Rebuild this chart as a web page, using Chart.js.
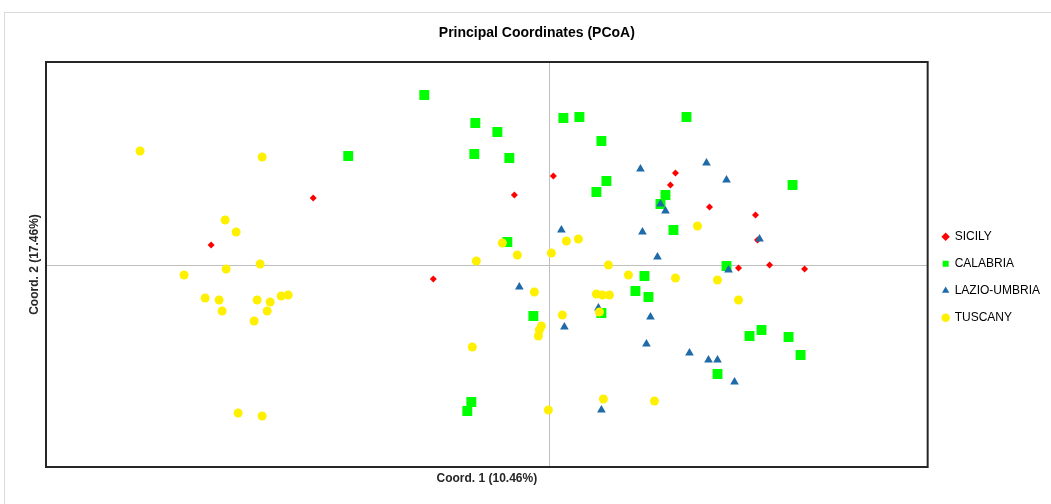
<!DOCTYPE html>
<html>
<head>
<meta charset="utf-8">
<script src="https://cdn.jsdelivr.net/npm/chart.js@4/dist/chart.umd.min.js"></script>
<style>
	html, body { margin: 0; padding: 0; overflow: hidden; background: #fff; }
	#wrap { position: relative; width: 1051px; height: 504px; }
	#frame { position: absolute; left: 4px; top: 12px; width: 1100px; height: 600px; border: 1px solid #d9d9d9; pointer-events: none; }
	canvas { position: absolute; left: 0; top: 0; }
</style>
</head>
<body>
<div id="wrap">
	<div id="frame"></div>
	<canvas id="chart" width="1051" height="504"></canvas>
</div>
<script>
const seriesNames = ["SICILY", "CALABRIA", "LAZIO-UMBRIA", "TUSCANY"];

const sicily = [
	[-2.36, 0.67], [-3.38, 0.20], [-1.16, -0.14], [-0.35, 0.70], [0.04, 0.89],
	[1.26, 0.92], [1.21, 0.80], [1.60, 0.58], [2.06, 0.50], [2.08, 0.25],
	[1.89, -0.03], [2.20, 0.00], [2.55, -0.04],
];

const calabria = [
	[-2.01, 1.09], [-1.25, 1.70], [-0.74, 1.42], [-0.52, 1.33], [-0.75, 1.11],
	[-0.40, 1.07], [0.14, 1.47], [0.30, 1.48], [0.52, 1.24], [0.57, 0.84],
	[0.47, 0.73], [1.37, 1.48], [2.43, 0.80], [1.16, 0.70], [1.11, 0.61],
	[1.24, 0.35], [-0.42, 0.23], [1.77, -0.01], [0.95, -0.11], [0.86, -0.26],
	[0.99, -0.32], [0.52, -0.48], [-0.16, -0.51], [2.00, -0.71], [2.12, -0.65],
	[2.39, -0.72], [2.51, -0.90], [1.68, -1.09], [-0.78, -1.37], [-0.82, -1.46],
];

const lazioUmbria = [
	[0.91, 0.96], [1.57, 1.02], [1.77, 0.85], [1.11, 0.61], [1.16, 0.54],
	[0.12, 0.35], [0.93, 0.33], [1.08, 0.08], [2.10, 0.26], [1.79, -0.05],
	[-0.30, -0.22], [0.49, -0.43], [0.15, -0.62], [1.01, -0.52], [0.97, -0.79],
	[1.40, -0.88], [1.59, -0.95], [1.68, -0.95], [1.85, -1.17], [0.52, -1.45],
];

const tuscany = [
	[-4.09, 1.14], [-2.87, 1.08], [-3.24, 0.45], [-3.13, 0.33], [-2.89, 0.01],
	[-3.23, -0.04], [-3.65, -0.10], [-3.44, -0.33], [-3.30, -0.35], [-3.27, -0.46],
	[-2.92, -0.35], [-2.79, -0.37], [-2.82, -0.46], [-2.95, -0.56], [-2.68, -0.31],
	[-2.61, -0.30], [-3.11, -1.48], [-2.87, -1.51], [-0.47, 0.22], [0.17, 0.24],
	[0.29, 0.26], [-0.32, 0.10], [0.02, 0.12], [-0.73, 0.04], [0.59, 0.00],
	[-0.15, -0.27], [0.79, -0.10], [0.47, -0.29], [0.53, -0.30], [0.60, -0.30],
	[0.50, -0.47], [0.13, -0.50], [-0.08, -0.61], [-0.10, -0.65], [-0.11, -0.71],
	[-0.77, -0.82], [-0.01, -1.45], [0.54, -1.34], [1.05, -1.36], [1.48, 0.39],
	[1.26, -0.13], [1.68, -0.15], [1.89, -0.35],
];

const xRange = [-5.03, 3.78];
const yRange = [-2.02, 2.03];

const toPoints = (arr) => arr.map((p) => ({ x: p[0], y: p[1] }));

// draws the dark box round the plot area
const plotFrame = {
	id: "plotFrame",
	afterDraw(chart) {
		const { ctx, chartArea } = chart;
		ctx.save();
		ctx.strokeStyle = "#262626";
		ctx.lineWidth = 2;
		ctx.strokeRect(chartArea.left, chartArea.top, chartArea.right - chartArea.left, chartArea.bottom - chartArea.top);
		ctx.restore();
	},
};

const zeroLine = (c) => (c.tick && c.tick.value === 0 ? "#bfbfbf" : "rgba(0,0,0,0)");

const ctx = document.getElementById("chart").getContext("2d");

new Chart(ctx, {
	type: "scatter",
	data: {
		datasets: [
			{
				label: seriesNames[0],
				data: toPoints(sicily),
				pointStyle: "rectRot",
				pointRadius: 3.5,
				backgroundColor: "#ff0000",
				borderColor: "#ff0000",
				borderWidth: 0,
				order: 3,
			},
			{
				label: seriesNames[1],
				data: toPoints(calabria),
				pointStyle: "rect",
				pointRadius: 7,
				backgroundColor: "#00ff00",
				borderColor: "#00ff00",
				borderWidth: 0,
				order: 2,
			},
			{
				label: seriesNames[2],
				data: toPoints(lazioUmbria),
				pointStyle: "triangle",
				pointRadius: 5,
				backgroundColor: "#1f6aa8",
				borderColor: "#1f6aa8",
				borderWidth: 0,
				order: 1,
			},
			{
				label: seriesNames[3],
				data: toPoints(tuscany),
				pointStyle: "circle",
				pointRadius: 4.5,
				backgroundColor: "#fff000",
				borderColor: "#fff000",
				borderWidth: 0,
				order: 0,
			},
		],
	},
	options: {
		responsive: false,
		animation: false,
		devicePixelRatio: 1,
		layout: {
			padding: { left: 23.6, right: 1, top: 25, bottom: 14.6 },
		},
		plugins: {
			title: {
				display: true,
				text: "Principal Coordinates (PCoA)",
				color: "#000",
				font: { family: "'Liberation Sans', Arial, sans-serif", size: 14, weight: "bold" },
				padding: { top: 0, bottom: 20.2 },
			},
			legend: {
				position: "right",
				title: {
					display: true,
					text: " ",
					font: { size: 10 },
					padding: { top: 0, bottom: 28 },
				},
				labels: {
					usePointStyle: true,
					boxWidth: 6,
					boxHeight: 6,
					padding: 15,
					color: "#000",
					font: { family: "'Liberation Sans', Arial, sans-serif", size: 12 },
					sort: (a, b) => a.datasetIndex - b.datasetIndex,
				},
			},
			tooltip: { enabled: false },
		},
		scales: {
			x: {
				type: "linear",
				min: xRange[0],
				max: xRange[1],
				ticks: { display: false, stepSize: 1 },
				grid: { color: zeroLine, drawTicks: false, lineWidth: 1 },
				border: { display: false },
				title: {
					display: true,
					text: "Coord. 1 (10.46%)",
					color: "#262626",
					font: { family: "'Liberation Sans', Arial, sans-serif", size: 12, weight: "bold" },
				},
			},
			y: {
				type: "linear",
				min: yRange[0],
				max: yRange[1],
				ticks: { display: false, stepSize: 1 },
				grid: { color: zeroLine, drawTicks: false, lineWidth: 1 },
				border: { display: false },
				title: {
					display: true,
					text: "Coord. 2 (17.46%)",
					color: "#262626",
					font: { family: "'Liberation Sans', Arial, sans-serif", size: 12, weight: "bold" },
				},
			},
		},
	},
	plugins: [plotFrame],
});
</script>
</body>
</html>
